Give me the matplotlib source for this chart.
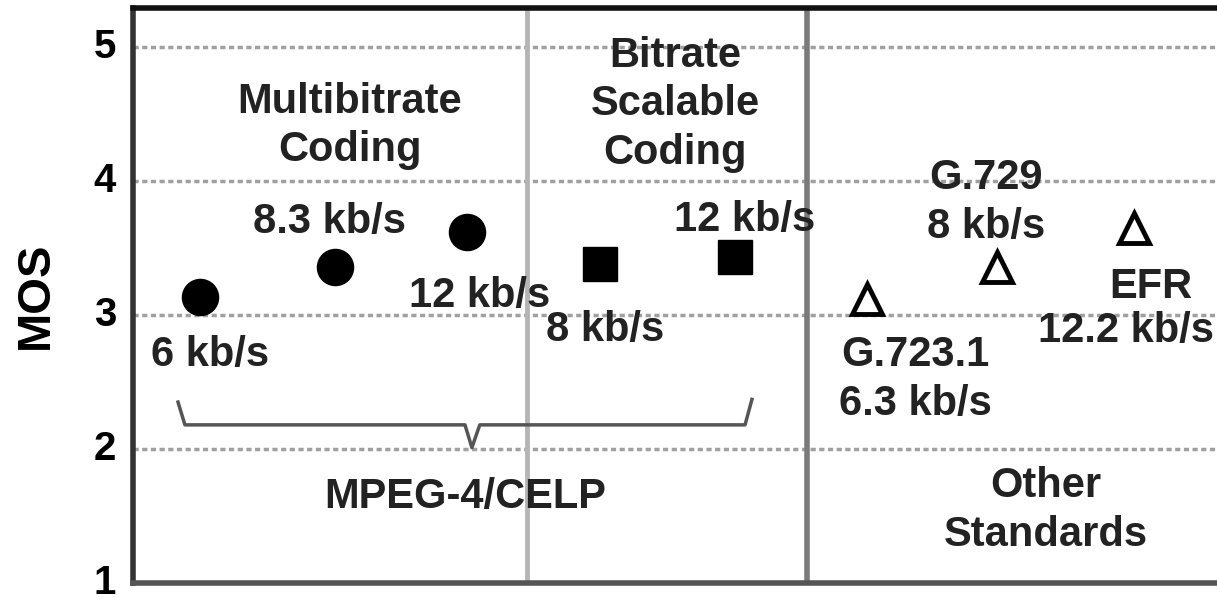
import matplotlib
matplotlib.use("Agg")
import matplotlib.pyplot as plt

plt.rcParams['font.family'] = ['Liberation Sans', 'DejaVu Sans']
plt.rcParams['font.weight'] = 'bold'

# MOS scores
mpeg_celp_x = [0.68, 2.05, 3.39]
mpeg_celp_mos = [3.13, 3.36, 3.62]
scalable_x = [4.74, 6.11]
scalable_mos = [3.38, 3.43]
other_x = [7.45, 8.77, 10.15]
other_mos = [3.12, 3.36, 3.65]

# region dividers and brace under the MPEG-4 points
divider_light = 4.0
divider_dark = 6.84
brace_x = [0.46, 0.53, 3.37, 3.44, 3.52, 6.21, 6.28]
brace_y = [2.35, 2.18, 2.18, 2.01, 2.18, 2.18, 2.37]

# (text, x, y, horizontal alignment)
labels = [
    ('Multibitrate\nCoding', 2.20, 4.41, 'center'),
    ('Bitrate\nScalable\nCoding', 5.50, 4.57, 'center'),
    ('8.3 kb/s', 2.00, 3.69, 'center'),
    ('12 kb/s', 3.52, 3.14, 'center'),
    ('6 kb/s', 0.78, 2.70, 'center'),
    ('8 kb/s', 4.79, 2.89, 'center'),
    ('12 kb/s', 6.21, 3.71, 'center'),
    ('G.729\n8 kb/s', 8.65, 3.84, 'center'),
    ('G.723.1\n6.3 kb/s', 7.94, 2.52, 'center'),
    ('EFR', 10.32, 3.21, 'center'),
    ('12.2 kb/s', 10.97, 2.88, 'right'),
    ('MPEG-4/CELP', 3.37, 1.64, 'center'),
    ('Other\nStandards', 9.26, 1.54, 'center'),
]

fig = plt.figure(figsize=(12.17, 6.03), dpi=100)
ax = fig.add_axes([0.109, 0.033, 0.897, 0.954])

for y in [2, 3, 4, 5]:
    ax.axhline(y, color='#a0a0a0', lw=2.5, ls=(0, (1.5, 1)), zorder=1)
ax.axvline(divider_light, color='#b5b5b5', lw=3.5, zorder=1)
ax.axvline(divider_dark, color='#7a7a7a', lw=4, zorder=1)

ax.plot(brace_x, brace_y, color='#555555', lw=2.5, zorder=2)

ax.plot(mpeg_celp_x, mpeg_celp_mos, 'o', color='black', ms=26, zorder=3)
ax.plot(scalable_x, scalable_mos, 's', color='black', ms=24, zorder=3)
ax.plot(other_x, other_mos, '^', mfc='white', mec='black', mew=3.5, ms=21, zorder=3)

for txt, x, y, ha in labels:
    ax.text(x, y, txt, ha=ha, va='center', fontsize=30,
            fontweight='bold', color='#222222', linespacing=1.28, zorder=4)

ax.set_xlim(0, 11.07)
ax.set_ylim(1, 5.29)
ax.set_yticks([1, 2, 3, 4, 5])
ax.set_xticks([])
ax.tick_params(axis='y', length=0, pad=12, labelsize=29)
for lab in ax.get_yticklabels():
    lab.set_fontweight('bold')
    lab.set_verticalalignment('center')
ax.set_ylabel('MOS', fontsize=34, fontweight='bold', labelpad=26)

ax.spines['left'].set_color('#333333')
ax.spines['left'].set_linewidth(4)
ax.spines['bottom'].set_color('#555555')
ax.spines['bottom'].set_linewidth(4)
ax.spines['top'].set_color('#111111')
ax.spines['top'].set_linewidth(4)
ax.spines['right'].set_visible(False)

fig.savefig('out.png', dpi=100)
